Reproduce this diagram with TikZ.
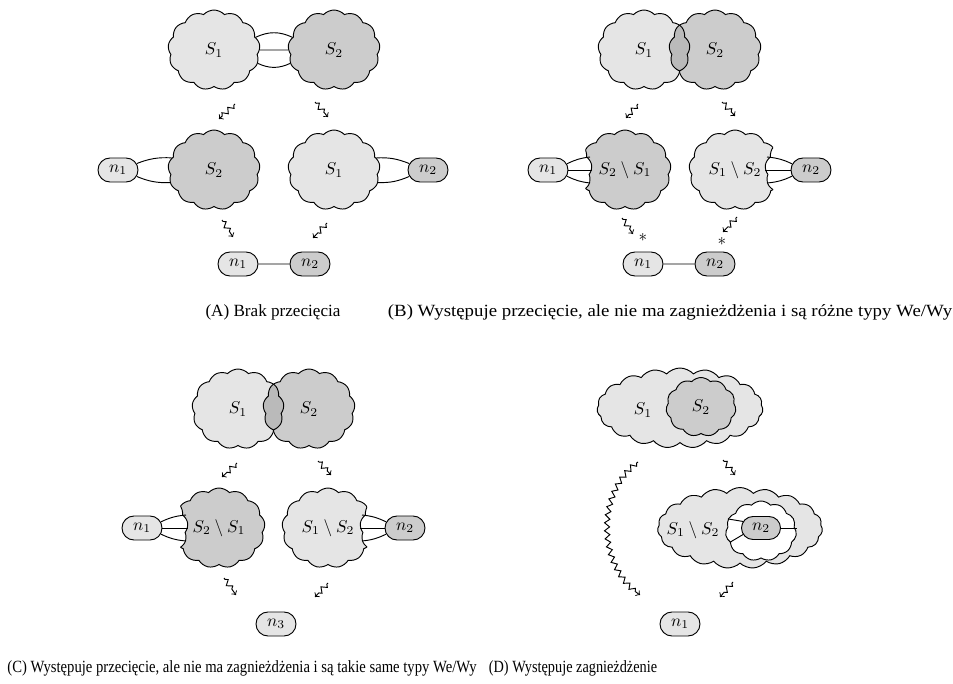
\documentclass[tikz,border=0pt]{standalone}
\usepackage{graphicx}
\usepackage{fontspec}
\setmainfont{Liberation Serif}
\usetikzlibrary{shapes.symbols,shapes.misc,decorations.pathmorphing}
\newcommand\pxu{0.584pt}
\begin{document}
\begin{tikzpicture}[x=0.584pt,y=-0.584pt,line width=0.55pt,
  ghost/.style={cloud,cloud puffs=13,cloud puff arc=95,inner sep=0pt,
    minimum width=92*\pxu,minimum height=80*\pxu},
  cl/.style={ghost,draw},
  lite/.style={fill=black!10},
  dark/.style={fill=black!20},
  lens/.style={fill=black!27},
  term/.style={rounded rectangle,draw,inner sep=0pt,
    minimum width=40*\pxu,minimum height=24*\pxu},
  sq/.style={->,decorate,decoration={zigzag,segment length=4.6pt,
    amplitude=1.5pt,pre length=1pt,post length=2.5pt}}
]
\useasboundingbox (0,0) rectangle (953,683);

% ---------------- (A) ----------------
\node[cl,lite] (a1) at (214,50) {$S_1$};
\node[cl,dark] (a2) at (334,50) {$S_2$};
\draw (a1.17) to[bend left=25] (a2.163);
\draw (a1.east) -- (a2.west);
\draw (a1.-17) to[bend right=25] (a2.-163);

\node[cl,dark] (a3) at (214,170) {$S_2$};
\node[cl,lite] (a4) at (334,170) {$S_1$};
\node[term,lite] (an1) at (118,170) {$n_1$};
\node[term,dark] (an2) at (428,170) {$n_2$};
\draw (an1.19) to[bend left=12] (a3.164);
\draw (an1.-19) to[bend right=12] (a3.-164);
\draw (a4.16) to[bend left=12] (an2.161);
\draw (a4.-16) to[bend right=12] (an2.-161);

\node[term,lite] (an3) at (238,264) {$n_1$};
\node[term,dark] (an4) at (310,264) {$n_2$};
\draw (an3) -- (an4);

\draw[sq] (235,104) coordinate (aa1) -- (219,119) coordinate (aa2);
\draw[sq] (315,102) coordinate (aa3) -- (328,117) coordinate (aa4);
\draw[sq] (222,220) coordinate (aa5) -- (233,237) coordinate (aa6);
\draw[sq] (327,223) coordinate (aa7) -- (313,238) coordinate (aa8);

\node (capA) at (273,312) {(A) Brak przecięcia};

% ---------------- (B) ----------------
\node[cl,lite] (b1) at (644,50) {$S_1$};
\node[cl,dark,path picture={\node[ghost,lens,draw] (b1x) at (b1.center) {};}]
  (b2) at (715,50) {$S_2$};

\node[cl,dark] (b3) at (625,170) {$S_2\setminus S_1$};
\coordinate (bw1) at (546,170);
\node[ghost,fill=white] (b3w) at (bw1) {};
\node[ghost,path picture={\node[ghost,draw] (b3e) at (bw1) {};}] (b3c) at (b3.center) {};

\node[cl,lite] (b4) at (735,170) {$S_1\setminus S_2$};
\coordinate (bw2) at (811,170);
\node[ghost,fill=white] (b4w) at (bw2) {};
\node[ghost,path picture={\node[ghost,draw] (b4e) at (bw2) {};}] (b4c) at (b4.center) {};

\coordinate (bt1) at (590,157);
\coordinate (bm1) at (592,170);
\coordinate (bb1) at (590,183);
\coordinate (bt2) at (767,157);
\coordinate (bm2) at (765,170);
\coordinate (bb2) at (767,183);
\node[term,lite] (bn1) at (548,170) {$n_1$};
\node[term,dark] (bn2) at (811,170) {$n_2$};
\draw (bn1.18) to[bend left=10] (bt1);
\draw (bn1.east) -- (bm1);
\draw (bn1.-18) to[bend right=10] (bb1);
\draw (bt2) to[bend left=10] (bn2.162);
\draw (bm2) -- (bn2.west);
\draw (bb2) to[bend right=10] (bn2.-162);

\node[term,lite] (bn3) at (643,264) {$n_1$};
\node[term,dark] (bn4) at (715,264) {$n_2$};
\draw (bn3) -- (bn4);

\draw[sq] (638,104) coordinate (ba1) -- (626,118) coordinate (ba2);
\draw[sq] (722,102) coordinate (ba3) -- (735,116) coordinate (ba4);
\draw[sq] (622,218) coordinate (ba5) -- (633,234) coordinate (ba6);
\draw[sq] (737,217) coordinate (ba7) -- (723,232) coordinate (ba8);
\node (bs1) at (643,238) {$*$};
\node (bs2) at (722,242) {$*$};

\node (capB) at (670,312) {\scalebox{1.10}[1]{(B) Występuje przecięcie, ale nie ma zagnieżdżenia i są różne typy We/Wy}};

% ---------------- (C) ----------------
\node[cl,lite] (c1) at (238,409) {$S_1$};
\node[cl,dark,path picture={\node[ghost,lens,draw] (c1x) at (c1.center) {};}]
  (c2) at (309,409) {$S_2$};

\node[cl,dark] (c3) at (219,528) {$S_2\setminus S_1$};
\coordinate (cw1) at (142,528);
\node[ghost,fill=white] (c3w) at (cw1) {};
\node[ghost,path picture={\node[ghost,draw] (c3e) at (cw1) {};}] (c3c) at (c3.center) {};

\node[cl,lite] (c4) at (328,528) {$S_1\setminus S_2$};
\coordinate (cw2) at (406,528);
\node[ghost,fill=white] (c4w) at (cw2) {};
\node[ghost,path picture={\node[ghost,draw] (c4e) at (cw2) {};}] (c4c) at (c4.center) {};

\coordinate (ct1) at (186,515);
\coordinate (cm1) at (188,528);
\coordinate (cb1) at (186,541);
\coordinate (ct2) at (362,515);
\coordinate (cm2) at (360,528);
\coordinate (cb2) at (362,541);
\node[term,lite] (cn1) at (142,528) {$n_1$};
\node[term,dark] (cn2) at (405,528) {$n_2$};
\draw (cn1.18) to[bend left=10] (ct1);
\draw (cn1.east) -- (cm1);
\draw (cn1.-18) to[bend right=10] (cb1);
\draw (ct2) to[bend left=10] (cn2.162);
\draw (cm2) -- (cn2.west);
\draw (cb2) to[bend right=10] (cn2.-162);

\node[term,lite] (cn3) at (276,624) {$n_3$};

\draw[sq] (237,463) coordinate (ca1) -- (222,477) coordinate (ca2);
\draw[sq] (318,461) coordinate (ca3) -- (331,475) coordinate (ca4);
\draw[sq] (224,578) coordinate (ca5) -- (236,595) coordinate (ca6);
\draw[sq] (328,583) coordinate (ca7) -- (315,597) coordinate (ca8);

\node (capC) at (242,668) {\scalebox{0.857}[1]{(C) Występuje przecięcie, ale nie ma zagnieżdżenia i są takie same typy We/Wy}};

% ---------------- (D) ----------------
\node[cl,lite,cloud puffs=19,minimum width=166*\pxu] (d1) at (680,408) {};
\node (d1l) at (643,410) {$S_1$};
\node[cl,dark,cloud puffs=11,minimum width=70*\pxu,minimum height=59*\pxu] (d2) at (701,407) {$S_2$};

\node[cl,lite,cloud puffs=19,minimum width=165*\pxu,minimum height=81*\pxu] (d3) at (740,528) {};
\node (d3l) at (693,530) {$S_1\setminus S_2$};
\node[cl,fill=white,cloud puffs=11,minimum width=71*\pxu,minimum height=60*\pxu] (d4) at (761,531) {};
\node[term,dark,minimum width=39*\pxu,minimum height=23*\pxu] (dn2) at (761,528) {$n_2$};
\draw (dn2.160) -- (d4.160);
\draw (dn2.200) -- (d4.200);
\draw (dn2.east) -- (d4.east |- dn2.east);

\node[term,lite] (dn1) at (680,624) {$n_1$};

\draw[sq] (723,460) coordinate (da1) -- (735,475) coordinate (da2);
\draw[sq] (638,462) coordinate (da3) to[bend right=55] (640,595) coordinate (da4);
\draw[sq] (733,582) coordinate (da5) -- (720,597) coordinate (da6);

\node (capD) at (573,668) {\scalebox{0.835}[1]{(D) Występuje zagnieżdżenie}};
\end{tikzpicture}
\end{document}
